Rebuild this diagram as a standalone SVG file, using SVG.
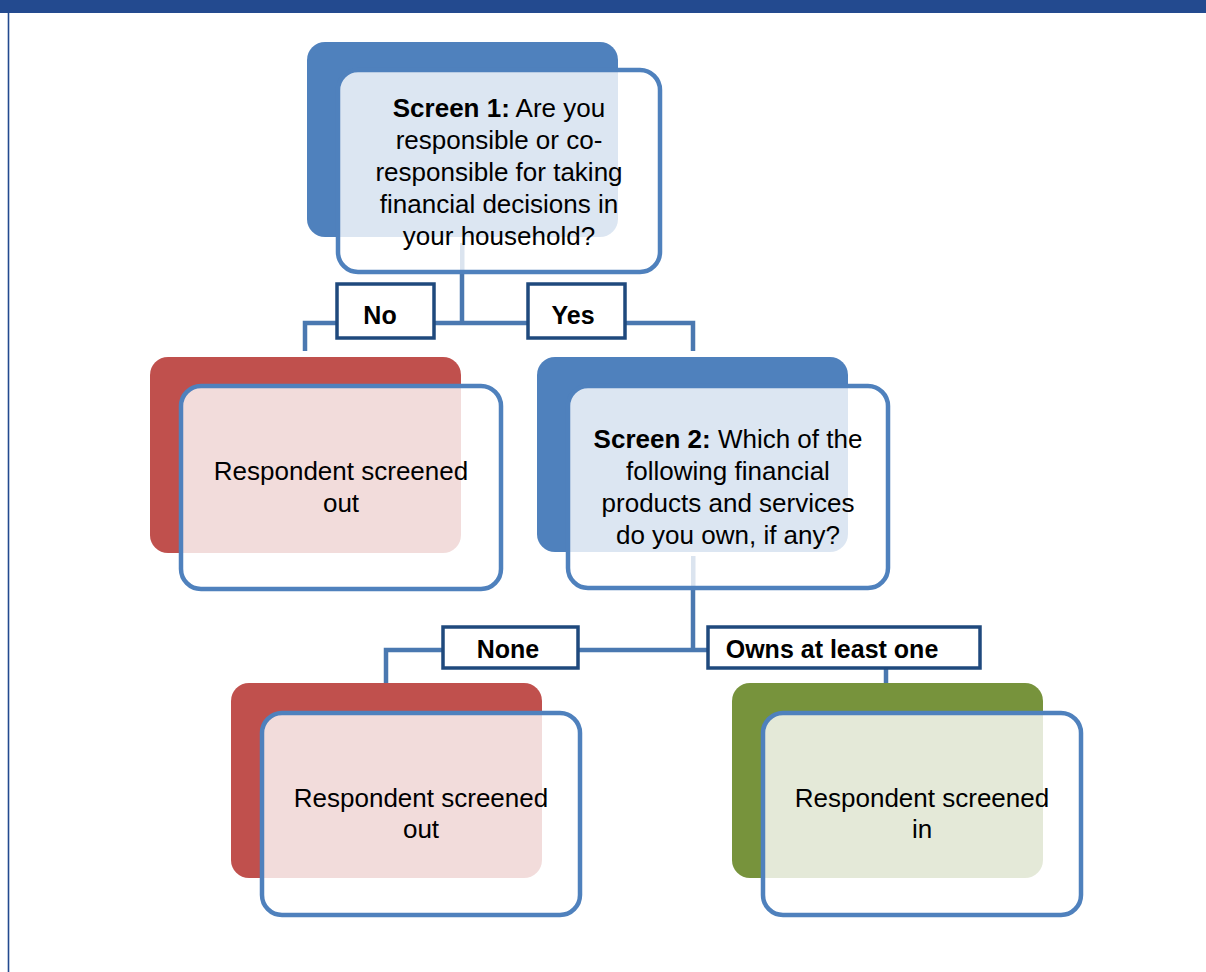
<svg xmlns="http://www.w3.org/2000/svg" width="1206" height="972" viewBox="0 0 1206 972">
<defs>
<clipPath id="c1"><rect x="338" y="70" width="322" height="202" rx="20"/></clipPath>
<clipPath id="c2"><rect x="181" y="386" width="320" height="203" rx="20"/></clipPath>
<clipPath id="c3"><rect x="568" y="386" width="320" height="202" rx="20"/></clipPath>
<clipPath id="c4"><rect x="262" y="713" width="318" height="202" rx="20"/></clipPath>
<clipPath id="c5"><rect x="763" y="713" width="318" height="202" rx="20"/></clipPath>
<style>
.back-blue{fill:#4f81bd}
.back-red{fill:#c0504d}
.back-green{fill:#77933c}
.tint{opacity:0.2}
.front{fill:#fff;stroke:none}
.frame{fill:none;stroke:#4f81bd;stroke-width:4.5}
.txt{font-family:"Liberation Sans",Arial,sans-serif;font-size:26px;fill:#000;text-anchor:middle}
.b{font-weight:bold}
.conn{fill:none;stroke:#4a78b0;stroke-width:4.5;stroke-linejoin:miter}
.lbl rect{fill:#fff;stroke:#1f497d;stroke-width:3.5}
.lbl text{font-family:"Liberation Sans",Arial,sans-serif;font-size:25px;font-weight:bold;fill:#000;text-anchor:middle}
</style>
</defs>
<rect width="1206" height="972" fill="#fff"/>
<rect x="0" y="0" width="1206" height="13" fill="#234a8f"/>
<line x1="8.5" y1="13" x2="8.5" y2="972" stroke="#234a8f" stroke-width="1.6"/>

<g id="connectors">
<path class="conn" d="M462,272 V323 M305,351 V323 H693 V351"/>
<path class="conn" d="M693,588 V650 M386,683 V650 H886 V683"/>
</g>

<g id="node-screen1">
<rect class="back-blue" x="307" y="42" width="311" height="195" rx="18"/>
<rect class="front" x="338" y="70" width="322" height="202" rx="20"/>
<g clip-path="url(#c1)" class="tint">
<rect class="back-blue" x="307" y="42" width="311" height="195" rx="18"/>
<rect x="460" y="243" width="4.5" height="30" fill="#4a78b0"/>
</g>
<rect class="frame" x="338" y="70" width="322" height="202" rx="20"/>
<text class="txt" x="499" y="117"><tspan class="b">Screen 1:</tspan> Are you</text>
<text class="txt" x="499" y="149">responsible or co-</text>
<text class="txt" x="499" y="181">responsible for taking</text>
<text class="txt" x="499" y="213">financial decisions in</text>
<text class="txt" x="499" y="245">your household?</text>
</g>

<g id="node-out1">
<rect class="back-red" x="150" y="357" width="311" height="196" rx="18"/>
<rect class="front" x="181" y="386" width="320" height="203" rx="20"/>
<g clip-path="url(#c2)" class="tint"><rect class="back-red" x="150" y="357" width="311" height="196" rx="18"/></g>
<rect class="frame" x="181" y="386" width="320" height="203" rx="20"/>
<text class="txt" x="341" y="480">Respondent screened</text>
<text class="txt" x="341" y="512">out</text>
</g>

<g id="node-screen2">
<rect class="back-blue" x="537" y="357" width="311" height="195" rx="18"/>
<rect class="front" x="568" y="386" width="320" height="202" rx="20"/>
<g clip-path="url(#c3)" class="tint">
<rect class="back-blue" x="537" y="357" width="311" height="195" rx="18"/>
<rect x="691" y="556" width="4.5" height="33" fill="#4a78b0"/>
</g>
<rect class="frame" x="568" y="386" width="320" height="202" rx="20"/>
<text class="txt" x="728" y="448"><tspan class="b">Screen 2:</tspan> Which of the</text>
<text class="txt" x="728" y="480">following financial</text>
<text class="txt" x="728" y="512">products and services</text>
<text class="txt" x="728" y="544">do you own, if any?</text>
</g>

<g id="node-out2">
<rect class="back-red" x="231" y="683" width="311" height="195" rx="18"/>
<rect class="front" x="262" y="713" width="318" height="202" rx="20"/>
<g clip-path="url(#c4)" class="tint"><rect class="back-red" x="231" y="683" width="311" height="195" rx="18"/></g>
<rect class="frame" x="262" y="713" width="318" height="202" rx="20"/>
<text class="txt" x="421" y="807">Respondent screened</text>
<text class="txt" x="421" y="838">out</text>
</g>

<g id="node-in">
<rect class="back-green" x="732" y="683" width="311" height="195" rx="18"/>
<rect class="front" x="763" y="713" width="318" height="202" rx="20"/>
<g clip-path="url(#c5)" class="tint"><rect class="back-green" x="732" y="683" width="311" height="195" rx="18"/></g>
<rect class="frame" x="763" y="713" width="318" height="202" rx="20"/>
<text class="txt" x="922" y="807">Respondent screened</text>
<text class="txt" x="922" y="838">in</text>
</g>

<g id="labels">
<g class="lbl" id="label-no"><rect x="337" y="284" width="97" height="54"/><text x="380" y="324">No</text></g>
<g class="lbl" id="label-yes"><rect x="528" y="284" width="97" height="54"/><text x="573" y="324">Yes</text></g>
<g class="lbl" id="label-none"><rect x="443" y="627" width="135" height="41"/><text x="508" y="658">None</text></g>
<g class="lbl" id="label-owns"><rect x="708" y="627" width="272" height="41"/><text x="832" y="658">Owns at least one</text></g>
</g>
</svg>
